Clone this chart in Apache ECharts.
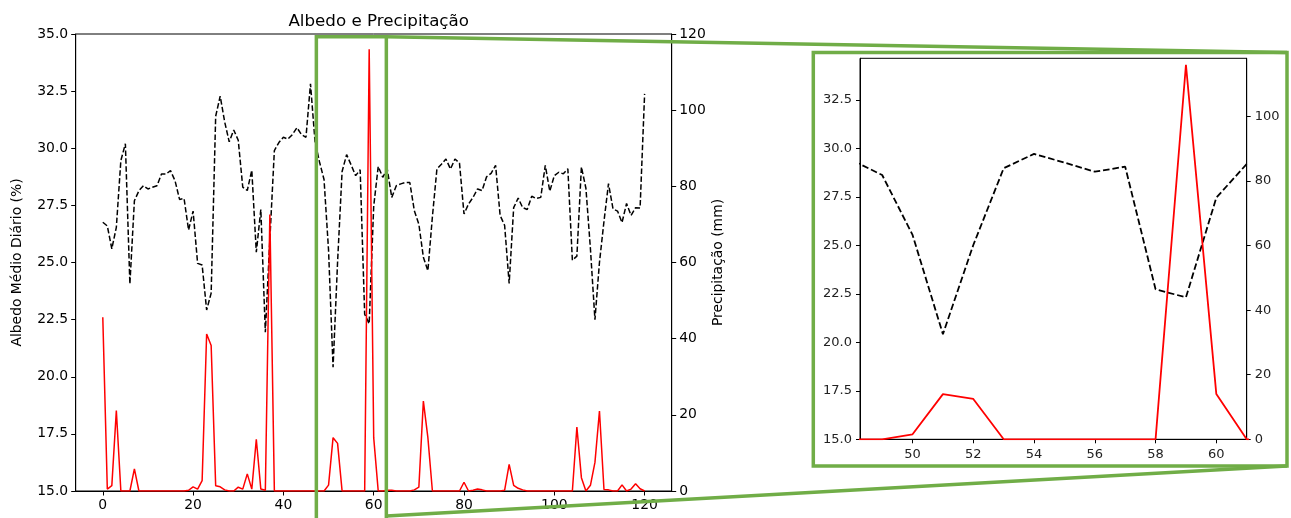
<!DOCTYPE html>
<html>
<head>
<meta charset="utf-8">
<script src="https://cdn.jsdelivr.net/npm/echarts@6/dist/echarts.min.js"></script>
<style>
html, body { margin: 0; padding: 0; background: #fff; }
#main { width: 1291px; height: 518px; }
</style>
</head>
<body>
<div id="main"></div>
<script>
// albedo médio diário (%) e precipitação (mm), dias 0..120
const albedo = [
  26.76, 26.6, 25.6, 26.54, 29.46, 30.2, 24.06, 27.7, 28.14, 28.36,
  28.22, 28.29, 28.36, 28.87, 28.87, 29.02, 28.58, 27.76, 27.8, 26.42,
  27.25, 24.96, 24.89, 22.92, 23.66, 31.4, 32.28, 31.15, 30.28, 30.8,
  30.35, 28.3, 28.15, 29.04, 25.45, 27.32, 21.95, 26.0, 29.9, 30.25,
  30.48, 30.4, 30.6, 30.9, 30.6, 30.48, 32.82, 30.3, 29.4, 28.63,
  25.54, 20.42, 25.02, 28.98, 29.72, 29.27, 28.8, 29.06, 22.74, 22.32,
  27.46, 29.2, 28.73, 29.09, 27.85, 28.36, 28.44, 28.5, 28.5, 27.27,
  26.68, 25.23, 24.64, 27.0, 29.09, 29.3, 29.53, 29.09, 29.53, 29.35,
  27.12, 27.56, 27.85, 28.22, 28.15, 28.75, 28.9, 29.25, 27.06, 26.62,
  24.08, 27.4, 27.82, 27.4, 27.32, 27.9, 27.8, 27.85, 29.25, 28.12,
  28.8, 28.95, 28.88, 29.1, 25.1, 25.28, 29.18, 28.25, 25.6, 22.5,
  25.0, 26.8, 28.45, 27.35, 27.25, 26.75, 27.58, 27.06, 27.4, 27.39,
  32.38
];
const precipitacao = [
  45.6, 0.5, 1.4, 21.1, 0, 0, 0, 5.8, 0, 0,
  0, 0, 0, 0, 0, 0, 0, 0, 0, 0.2,
  1.1, 0.5, 2.7, 41.2, 38.2, 1.4, 1.1, 0.3, 0, 0,
  1.0, 0.5, 4.5, 0.5, 13.6, 0.5, 0.2, 72.6, 0, 0,
  0, 0, 0, 0, 0, 0, 0, 0, 0, 0,
  1.55, 14.0, 12.5, 0, 0, 0, 0, 0, 0, 116.0,
  14.0, 0, 0, 0.2, 0.2, 0, 0, 0, 0, 0.3,
  1.0, 23.6, 14.0, 0, 0, 0, 0, 0, 0, 0,
  2.3, 0, 0.2, 0.5, 0.3, 0, 0, 0, 0, 0.2,
  7.0, 1.5, 0.7, 0.3, 0, 0, 0, 0, 0, 0,
  0, 0, 0, 0, 0, 16.8, 3.5, 0, 1.5, 7.5,
  21.0, 0.4, 0.3, 0, 0, 1.6, 0, 0.5, 1.9, 0.6,
  0
];
const xTicksMain = [0, 20, 40, 60, 80, 100, 120];
const xTicksZoom = [50, 52, 54, 56, 58, 60];
const yTicksZoomLeft = [15, 17.5, 20, 22.5, 25, 27.5, 30, 32.5];
const yTicksZoomRight = [0, 20, 40, 60, 80, 100];
const zoomBox = [47.3, 62.8];   // retângulo verde no gráfico principal

const GREEN = '#70ad47';
const FONT = 'DejaVu Sans';
const pts = arr => arr.map((v, i) => [i, v]);

const black = { color: '#000', width: 1 };
function tickAxis(size, extra) {
  return Object.assign({
    splitLine: { show: false },
    axisLine: { show: true, onZero: false, lineStyle: black },
    axisTick: { show: true, length: 4.5, lineStyle: black },
    axisLabel: { color: '#000', fontFamily: FONT, fontSize: size, margin: 7.5 },
    nameTextStyle: { color: '#000', fontFamily: FONT, fontSize: size }
  }, extra);
}

let chart = echarts.init(document.getElementById('main'))
let option = {
  animation: false,
  backgroundColor: '#fff',
  title: {
    text: 'Albedo e Precipitação',
    left: 373.7, top: 8, textAlign: 'center',
    textStyle: { fontFamily: FONT, fontSize: 16.7, fontWeight: 'normal', color: '#000' }
  },
  grid: [
    { left: 75.7, top: 34, width: 596, height: 457, show: true, borderColor: '#000', borderWidth: 1 },
    { left: 860, top: 58.3, width: 386.7, height: 381, show: true, borderColor: '#000', borderWidth: 1 }
  ],
  xAxis: [
    tickAxis(13.9, {
      type: 'value', gridIndex: 0, min: -6, max: 126,
      axisTick: { show: true, length: 4.5, lineStyle: black, customValues: xTicksMain },
      axisLabel: { color: '#000', fontFamily: FONT, fontSize: 13.9, margin: 7.5, customValues: xTicksMain }
    }),
    tickAxis(13, {
      type: 'value', gridIndex: 1, min: 48.27, max: 61,
      axisTick: { show: true, length: 4, lineStyle: black, customValues: xTicksZoom },
      axisLabel: { color: '#222', fontFamily: FONT, fontSize: 13, margin: 9, customValues: xTicksZoom }
    })
  ],
  yAxis: [
    tickAxis(13.9, {
      type: 'value', gridIndex: 0, min: 15, max: 35, interval: 2.5, position: 'left',
      name: 'Albedo Médio Diário (%)', nameLocation: 'middle', nameGap: 51, nameRotate: 90,
      axisLabel: { color: '#000', fontFamily: FONT, fontSize: 13.9, margin: 7.5, formatter: v => v.toFixed(1) }
    }),
    tickAxis(13.9, {
      type: 'value', gridIndex: 0, min: 0, max: 120, interval: 20, position: 'right',
      name: 'Precipitação (mm)', nameLocation: 'middle', nameGap: 40, nameRotate: 90
    }),
    tickAxis(13, {
      type: 'value', gridIndex: 1, min: 15, max: 34.65, position: 'left',
      axisTick: { show: true, length: 4, lineStyle: black, customValues: yTicksZoomLeft },
      axisLabel: { color: '#222', fontFamily: FONT, fontSize: 13, margin: 8,
        customValues: yTicksZoomLeft, formatter: v => v.toFixed(1) }
    }),
    tickAxis(13, {
      type: 'value', gridIndex: 1, min: 0, max: 118, position: 'right',
      axisTick: { show: true, length: 4, lineStyle: black, customValues: yTicksZoomRight },
      axisLabel: { color: '#222', fontFamily: FONT, fontSize: 13, margin: 8, customValues: yTicksZoomRight }
    })
  ],
  series: [
    {
      name: 'Albedo', type: 'line', xAxisIndex: 0, yAxisIndex: 0, data: pts(albedo),
      showSymbol: false, lineStyle: { color: '#000', width: 1.5, type: [5.5, 2.4] }
    },
    {
      name: 'Precipitação', type: 'line', xAxisIndex: 0, yAxisIndex: 1, data: pts(precipitacao),
      showSymbol: false, lineStyle: { color: '#ff0000', width: 1.5 }
    },
    {
      name: 'Albedo zoom', type: 'line', xAxisIndex: 1, yAxisIndex: 2, data: pts(albedo),
      showSymbol: false, clip: true, lineStyle: { color: '#000', width: 1.8, type: [6.6, 2.9] }
    },
    {
      name: 'Precipitação zoom', type: 'line', xAxisIndex: 1, yAxisIndex: 3, data: pts(precipitacao),
      showSymbol: false, clip: true, lineStyle: { color: '#ff0000', width: 1.8 }
    }
  ]
}
chart.setOption(option)

// moldura verde do zoom
const bx0 = chart.convertToPixel({ xAxisIndex: 0 }, zoomBox[0])
const bx1 = chart.convertToPixel({ xAxisIndex: 0 }, zoomBox[1])
const stroke = { fill: 'none', stroke: GREEN, lineWidth: 3.5 }
chart.setOption({
  graphic: [
    { type: 'rect', z: 100, shape: { x: bx0, y: 36.7, width: bx1 - bx0, height: 490 }, style: stroke },
    { type: 'line', z: 100, shape: { x1: bx1, y1: 36.7, x2: 1287, y2: 52.5 }, style: stroke },
    { type: 'line', z: 100, shape: { x1: bx1, y1: 516, x2: 1287, y2: 466 }, style: stroke },
    { type: 'rect', z: 100, shape: { x: 813.3, y: 52.5, width: 473.7, height: 413.5 }, style: stroke }
  ]
})
</script>
</body>
</html>
